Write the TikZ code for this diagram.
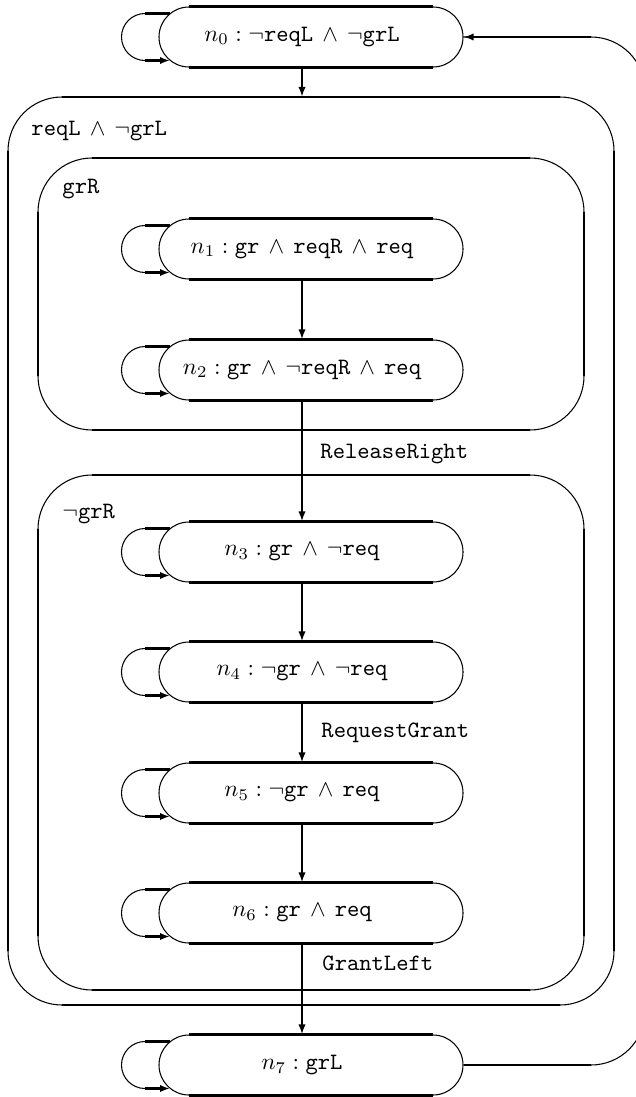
\documentclass[tikz,border=0pt]{standalone}
\usetikzlibrary{shapes.misc,arrows.meta}
\newcommand{\conj}{\mathbin{\,\wedge\,}}
\begin{document}
\begin{tikzpicture}[x=0.015cm, y=-0.015cm,
  heavy/.style={line width=0.9pt},
  light/.style={line width=0.45pt},
  flow/.style={heavy, -{Latex[length=1.5mm,width=1.1mm]}},
  state/.style={rounded rectangle, draw, light, minimum width=4.56cm, minimum height=0.9cm, inner sep=0pt},
  tag/.style={xshift=-0.135cm},
  region/.style={anchor=base west, inner sep=0pt},
  event/.style={anchor=base west, inner sep=0pt}]
\useasboundingbox (0,0) rectangle (636,1097);
\clip (0,0) rectangle (636,1097);
% Nested regions
\foreach \xa/\ya/\xb/\yb in {8/97/614/1005, 38/158/584/430, 38/475/584/990} {
  \draw[light, rounded corners=0.81cm] (\xa,\ya) rectangle (\xb,\yb);
  \draw[heavy] (\xa+54,\ya) -- (\xb-54,\ya) (\xa+54,\yb) -- (\xb-54,\yb)
               (\xa,\ya+54) -- (\xa,\yb-54) (\xb,\ya+54) -- (\xb,\yb-54);
}
\node[region] (outerlbl) at (31,135) {$\texttt{reqL} \conj \neg\texttt{grL}$};
\node[region] (grRlbl) at (62,193) {\texttt{grR}};
\node[region] (ngrRlbl) at (62,518) {$\neg\texttt{grR}$};
% States
\node[state, label={[tag]center:$n_0 : \neg\texttt{reqL} \conj \neg\texttt{grL}$}] (n0) at (311,37) {};
\node[state, label={[tag]center:$n_1 : \texttt{gr} \conj \texttt{reqR} \conj \texttt{req}$}] (n1) at (311,249) {};
\node[state, label={[tag]center:$n_2 : \texttt{gr} \conj \neg\texttt{reqR} \conj \texttt{req}$}] (n2) at (311,370) {};
\node[state, label={[tag]center:$n_3 : \texttt{gr} \conj \neg\texttt{req}$}] (n3) at (311,552) {};
\node[state, label={[tag]center:$n_4 : \neg\texttt{gr} \conj \neg\texttt{req}$}] (n4) at (311,672) {};
\node[state, label={[tag]center:$n_5 : \neg\texttt{gr} \conj \texttt{req}$}] (n5) at (311,793) {};
\node[state, label={[tag]center:$n_6 : \texttt{gr} \conj \texttt{req}$}] (n6) at (311,913) {};
\node[state, label={[tag]center:$n_7 : \texttt{grL}$}] (n7) at (311,1065) {};
% Straight sides and self loops
\foreach \i in {0,...,7} {
  \draw[heavy] ([shift={(-122,0)}]n\i.north) -- ([shift={(122,0)}]n\i.north)
               ([shift={(-122,0)}]n\i.south) -- ([shift={(122,0)}]n\i.south);
  \draw[heavy] ([shift={(-141,-23.5)}]n\i.center) -- ++(-25,0);
  \draw[light] ([shift={(-166,-23.5)}]n\i.center) arc (90:270:0.3525cm);
  \draw[flow] ([shift={(-166,23.5)}]n\i.center) -- ([shift={(-141,23.5)}]n\i.center);
}
% Transitions
\coordinate (spine) at (302,0);
\coordinate (outtop) at (302,97);
\draw[flow] (n0.south -| spine) -- (outtop);
\draw[flow] (n1.south -| spine) -- (n2.north -| spine);
\draw[flow] (n2.south -| spine) -- (n3.north -| spine);
\draw[flow] (n3.south -| spine) -- (n4.north -| spine);
\draw[flow] (n4.south -| spine) -- (n5.north -| spine);
\draw[flow] (n5.south -| spine) -- (n6.north -| spine);
\draw[flow] (n6.south -| spine) -- (n7.north -| spine);
\node[event] (relR) at (320,458) {\texttt{ReleaseRight}};
\node[event] (reqG) at (321,737) {\texttt{RequestGrant}};
\node[event] (grL) at (322,970) {\texttt{GrantLeft}};
% Back to n0
\coordinate (rb) at (645,1065);
\coordinate (rt) at (645,37);
\draw[light, rounded corners=0.81cm] (n7.east) -- (rb) -- (rt) -- (n0.east);
\draw[heavy] (n7.east) -- ([shift={(-54,0)}]rb);
\draw[flow] ([shift={(-54,0)}]rt) -- (n0.east);
\end{tikzpicture}
\end{document}
